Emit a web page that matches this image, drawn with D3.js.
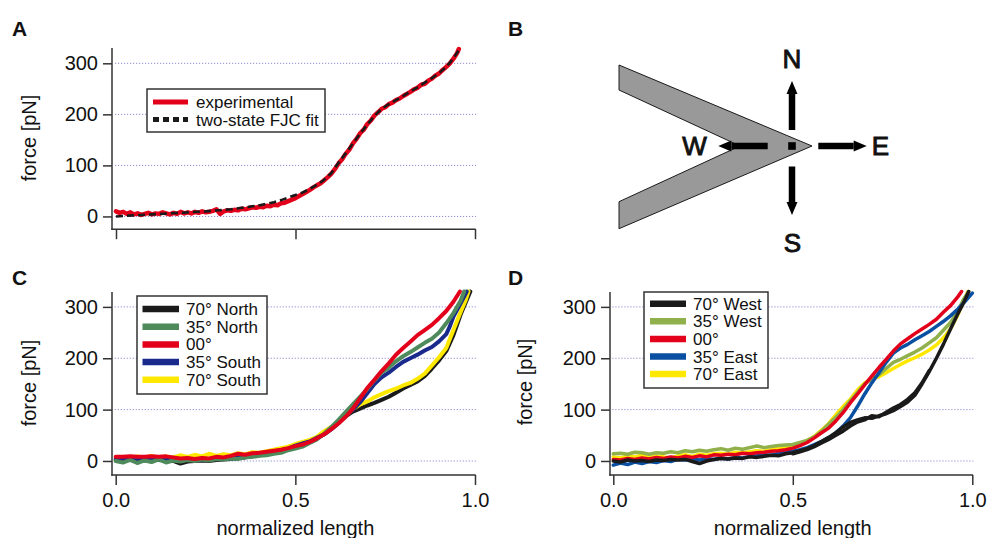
<!DOCTYPE html>
<html><head><meta charset="utf-8">
<script src="https://cdn.jsdelivr.net/npm/d3@7"></script>
<style>
body{margin:0;background:#fff}
svg{display:block}
text{font-family:"Liberation Sans",Arial,Helvetica,sans-serif;fill:#111}
</style>
</head><body>
<svg id="chart" width="987" height="538"></svg>
<script>
// ---------- data ----------
const yTicks = [0, 100, 200, 300];
const xTicks = [0, 0.5, 1];
const xTickLabels = ["0.0", "0.5", "1.0"];
const panelLabels = ["A", "B", "C", "D"];
const compassLabels = ["N", "E", "S", "W"];

const legendA = ["experimental", "two-state FJC fit"];
const legendC = ["70° North", "35° North", "00°", "35° South", "70° South"];
const legendD = ["70° West", "35° West", "00°", "35° East", "70° East"];
const colorsC = ["#1a1a1a", "#4f8a5c", "#e2001a", "#1a2a8c", "#ffe800"];
const colorsD = ["#1a1a1a", "#8fb04a", "#e2001a", "#0a50a2", "#ffe800"];

// Panel A
const experimental = [[0,10],[0.01,7],[0.02,9],[0.03,5],[0.04,8],[0.05,4],[0.06,6],[0.07,3],[0.08,5],[0.09,7],
 [0.10,4],[0.11,6],[0.12,5],[0.13,8],[0.14,6],[0.15,4],[0.16,7],[0.17,5],[0.18,9],[0.19,6],
 [0.20,8],[0.21,6],[0.22,9],[0.23,7],[0.24,10],[0.25,8],[0.26,9],[0.27,11],[0.28,14],[0.29,5],
 [0.30,10],[0.31,12],[0.32,11],[0.33,13],[0.34,12],[0.35,15],[0.36,14],[0.37,16],[0.38,18],[0.39,17],
 [0.40,19],[0.41,18],[0.42,21],[0.43,20],[0.44,23],[0.45,22],[0.46,26],[0.47,27],[0.48,30],[0.49,33],
 [0.50,36],[0.51,40],[0.52,44],[0.53,48],[0.54,52],[0.55,57],[0.56,61],[0.57,65],[0.58,71],[0.59,77],
 [0.60,84],[0.61,93],[0.62,104],[0.63,112],[0.64,123],[0.65,131],[0.66,143],[0.67,152],[0.68,163],[0.69,170],
 [0.70,181],[0.71,188],[0.72,198],[0.73,204],[0.74,211],[0.75,214],[0.76,220],[0.77,223],[0.78,228],[0.79,231],
 [0.80,236],[0.81,240],[0.82,244],[0.83,249],[0.84,252],[0.85,258],[0.86,260],[0.87,266],[0.88,270],[0.89,276],
 [0.90,280],[0.91,287],[0.92,293],[0.93,300],[0.94,309],[0.95,320],[0.955,328]];
const fjcFit = [[0,0],[0.05,2],[0.1,4],[0.15,6],[0.2,8],[0.25,10],[0.3,13],[0.32,14],[0.34,16],[0.36,18],
 [0.38,20],[0.40,22],[0.42,25],[0.44,28],[0.46,32],[0.48,37],[0.50,42],[0.52,47],[0.54,54],[0.56,62],
 [0.58,72],[0.60,85],[0.62,105],[0.64,124],[0.66,143],[0.68,162],[0.70,180],[0.72,197],[0.74,211],[0.76,220],
 [0.78,228],[0.80,236],[0.82,245],[0.84,253],[0.86,262],[0.88,271],[0.90,281],[0.92,293],[0.94,310],[0.955,326]];

// Panel C
const north70 = [[0,2],[0.02,1],[0.04,3],[0.06,2],[0.08,1],[0.10,3],[0.12,2],[0.14,1],[0.16,0],[0.18,-5],
 [0.20,-1],[0.22,0],[0.24,1],[0.26,0],[0.28,2],[0.30,3],[0.32,4],[0.34,6],[0.36,7],[0.38,9],
 [0.40,11],[0.42,14],[0.44,17],[0.46,20],[0.48,24],[0.50,30],[0.52,33],[0.54,38],[0.56,44],[0.58,52],
 [0.60,62],[0.62,74],[0.64,87],[0.66,96],[0.68,102],[0.70,108],[0.72,113],[0.74,119],[0.76,125],[0.78,133],
 [0.80,141],[0.82,148],[0.84,155],[0.86,165],[0.88,180],[0.90,196],[0.92,214],[0.94,245],[0.96,285],[0.975,310],[0.987,330]];
const north35 = [[0,0],[0.02,-3],[0.04,2],[0.06,-4],[0.08,1],[0.10,-2],[0.12,3],[0.14,-3],[0.16,1],[0.18,-1],
 [0.20,2],[0.22,0],[0.24,3],[0.26,1],[0.28,4],[0.30,3],[0.32,5],[0.34,4],[0.36,7],[0.38,8],
 [0.40,10],[0.42,11],[0.44,14],[0.46,16],[0.48,21],[0.50,24],[0.52,28],[0.54,35],[0.56,42],[0.58,53],
 [0.60,66],[0.62,80],[0.64,95],[0.66,110],[0.68,125],[0.70,140],[0.72,157],[0.74,172],[0.76,182],[0.78,194],
 [0.80,204],[0.82,212],[0.84,221],[0.86,230],[0.88,238],[0.90,250],[0.92,268],[0.94,288],[0.96,312],[0.97,330]];
const zeroC = [[0,8],[0.02,8],[0.04,9],[0.06,8],[0.08,8],[0.10,9],[0.12,8],[0.14,9],[0.16,7],[0.18,5],
 [0.20,6],[0.22,4],[0.24,6],[0.26,5],[0.28,8],[0.30,7],[0.32,10],[0.34,14],[0.36,12],[0.38,15],
 [0.40,16],[0.42,18],[0.44,20],[0.46,22],[0.48,25],[0.50,29],[0.52,32],[0.54,37],[0.56,44],[0.58,52],
 [0.60,62],[0.62,73],[0.64,86],[0.66,102],[0.68,122],[0.70,142],[0.72,158],[0.74,175],[0.76,190],[0.78,207],
 [0.80,220],[0.82,232],[0.84,245],[0.86,255],[0.88,265],[0.90,278],[0.92,292],[0.94,310],[0.958,330]];
const south35 = [[0,4],[0.04,5],[0.08,4],[0.12,5],[0.16,3],[0.20,2],[0.24,3],[0.28,5],[0.32,7],[0.36,10],
 [0.40,13],[0.44,18],[0.48,24],[0.50,30],[0.52,34],[0.54,38],[0.56,45],[0.58,52],
 [0.60,62],[0.62,74],[0.64,88],[0.66,100],[0.68,114],[0.70,132],[0.72,150],[0.74,163],[0.76,172],[0.78,183],
 [0.80,193],[0.82,200],[0.84,207],[0.86,215],[0.88,222],[0.90,233],[0.92,247],[0.93,262],[0.94,281],[0.96,307],[0.977,330]];
const south70 = [[0,6],[0.02,8],[0.04,5],[0.06,9],[0.08,7],[0.10,10],[0.12,6],[0.14,9],[0.16,7],[0.18,11],
 [0.20,8],[0.22,12],[0.24,9],[0.26,14],[0.28,10],[0.30,13],[0.32,11],[0.34,15],[0.36,13],[0.38,17],
 [0.40,16],[0.42,19],[0.44,22],[0.46,25],[0.48,28],[0.50,33],[0.52,37],[0.54,41],[0.56,47],[0.58,58],
 [0.60,66],[0.62,76],[0.64,88],[0.66,101],[0.68,110],[0.70,116],[0.72,124],[0.74,130],[0.76,136],[0.78,141],
 [0.80,147],[0.82,152],[0.84,160],[0.86,170],[0.88,186],[0.90,202],[0.92,220],[0.94,255],[0.96,290],[0.975,315],[0.982,330]];

// Panel D
const west70 = [[0,0],[0.02,-2],[0.04,2],[0.06,0],[0.08,1],[0.10,-1],[0.12,2],[0.14,1],[0.16,3],[0.18,2],
 [0.20,3],[0.22,-1],[0.24,-5],[0.26,0],[0.28,3],[0.30,5],[0.32,4],[0.34,6],[0.36,5],[0.38,8],
 [0.40,7],[0.42,9],[0.44,11],[0.46,10],[0.48,14],[0.50,16],[0.52,20],[0.54,24],[0.56,30],[0.58,38],
 [0.60,46],[0.62,55],[0.64,66],[0.66,75],[0.68,80],[0.70,84],[0.72,83],[0.74,88],[0.76,92],[0.78,98],
 [0.80,106],[0.82,115],[0.84,128],[0.86,150],[0.88,174],[0.90,200],[0.92,228],[0.94,258],[0.96,287],[0.975,307],[0.99,330]];
const west70b = [[0.50,14],[0.52,18],[0.54,22],[0.56,28],[0.58,35],[0.60,42],[0.62,50],[0.64,58],[0.66,68],[0.68,76],
 [0.70,80],[0.72,88],[0.74,86],[0.76,95],[0.78,103],[0.80,110],[0.82,120],[0.84,133],[0.86,152],[0.88,176]];
const west35 = [[0,14],[0.02,15],[0.04,13],[0.06,17],[0.08,16],[0.10,13],[0.12,16],[0.14,15],[0.16,18],[0.18,16],
 [0.20,20],[0.22,18],[0.24,21],[0.26,19],[0.28,22],[0.30,24],[0.32,21],[0.34,25],[0.36,23],[0.38,26],
 [0.40,29],[0.42,26],[0.44,28],[0.46,30],[0.48,31],[0.50,32],[0.52,36],[0.54,40],[0.56,47],[0.58,58],
 [0.60,72],[0.62,85],[0.64,100],[0.66,117],[0.68,133],[0.70,150],[0.72,160],[0.74,168],[0.76,180],[0.78,192],
 [0.80,198],[0.82,205],[0.84,212],[0.86,220],[0.88,230],[0.90,240],[0.92,255],[0.94,270],[0.96,292],[0.975,314],[0.99,330]];
const zeroD = [[0,3],[0.02,2],[0.04,5],[0.06,3],[0.08,6],[0.10,4],[0.12,7],[0.14,5],[0.16,8],[0.18,6],
 [0.20,9],[0.22,7],[0.24,10],[0.26,8],[0.28,12],[0.30,11],[0.32,13],[0.34,12],[0.36,15],[0.38,14],
 [0.40,16],[0.42,17],[0.44,19],[0.46,20],[0.48,22],[0.50,25],[0.52,30],[0.54,36],[0.56,45],[0.58,55],
 [0.60,64],[0.62,78],[0.64,94],[0.66,113],[0.68,130],[0.70,148],[0.72,165],[0.74,182],[0.76,198],[0.78,214],
 [0.80,228],[0.82,238],[0.84,248],[0.86,257],[0.88,266],[0.90,276],[0.92,290],[0.94,303],[0.96,320],[0.97,330]];
const east35 = [[0,-8],[0.02,-4],[0.04,-7],[0.06,-2],[0.08,-5],[0.10,-1],[0.12,-3],[0.14,1],[0.16,-1],[0.18,3],
 [0.20,2],[0.22,4],[0.24,2],[0.26,5],[0.28,3],[0.30,6],[0.32,4],[0.34,7],[0.36,6],[0.38,9],
 [0.40,10],[0.42,12],[0.44,11],[0.46,15],[0.48,17],[0.50,19],[0.52,22],[0.54,26],[0.56,32],[0.58,38],
 [0.60,45],[0.62,55],[0.64,68],[0.66,84],[0.68,106],[0.70,130],[0.72,152],[0.74,172],[0.76,192],[0.78,210],
 [0.80,220],[0.82,227],[0.84,236],[0.86,244],[0.88,252],[0.90,262],[0.92,272],[0.94,283],[0.96,296],[0.98,311],[1.0,327]];
const east70 = [[0,8],[0.02,6],[0.04,10],[0.06,8],[0.08,11],[0.10,7],[0.12,9],[0.14,8],[0.16,6],[0.18,10],
 [0.20,12],[0.22,9],[0.24,13],[0.26,11],[0.28,14],[0.30,15],[0.32,13],[0.34,17],[0.36,16],[0.38,18],
 [0.40,20],[0.42,19],[0.44,22],[0.46,25],[0.48,26],[0.50,29],[0.52,34],[0.54,40],[0.56,48],[0.58,60],
 [0.60,73],[0.62,90],[0.64,106],[0.66,120],[0.68,138],[0.70,152],[0.72,160],[0.74,164],[0.76,172],[0.78,180],
 [0.80,188],[0.82,195],[0.84,201],[0.86,208],[0.88,216],[0.90,226],[0.92,240],[0.94,258],[0.96,285],[0.975,310],[0.988,330]];

// ---------- drawing ----------
const svg = d3.select("#chart");
const AXC = "#333";

function panel(cfg){
  const g = svg.append("g");
  const x = d3.scaleLinear().domain([0,1]).range([cfg.x0, cfg.x1]);
  const y = d3.scaleLinear().domain(cfg.yDom).range([cfg.yBot, cfg.yTop]);
  g.selectAll("line.grid").data(yTicks).join("line")
    .attr("x1", x(0)-1).attr("x2", x(1)+1)
    .attr("y1", d=>y(d)).attr("y2", d=>y(d))
    .attr("stroke", "#8c8cd2").attr("stroke-width", 1).attr("stroke-dasharray", "1.2,1.8");
  const ya = g.append("g").attr("transform", `translate(${cfg.axX},0)`)
    .call(d3.axisLeft(y).tickValues(yTicks).tickSize(9).tickPadding(5));
  ya.select(".domain").remove();
  ya.selectAll("line").attr("stroke", AXC).attr("stroke-width", 1.5);
  ya.selectAll("text").attr("font-size", 20).attr("font-family", '"Liberation Sans",Arial,sans-serif').attr("fill","#111");
  g.append("line").attr("x1", cfg.axX).attr("x2", cfg.axX).attr("y1", cfg.yTop).attr("y2", cfg.yBot+0.75)
    .attr("stroke", AXC).attr("stroke-width", 1.5);
  const xa = g.append("g").attr("transform", `translate(0,${cfg.yBot})`)
    .call(d3.axisBottom(x).tickValues(xTicks).tickSize(10).tickPadding(8)
      .tickFormat((d,i)=> cfg.xLabels ? xTickLabels[i] : ""));
  xa.select(".domain").remove();
  xa.selectAll("line").attr("stroke", AXC).attr("stroke-width", 1.5);
  xa.selectAll("text").attr("font-size", 20).attr("font-family", '"Liberation Sans",Arial,sans-serif').attr("fill","#111");
  g.append("line").attr("x1", cfg.axX-0.75).attr("x2", x(1)+0.75).attr("y1", cfg.yBot).attr("y2", cfg.yBot)
    .attr("stroke", AXC).attr("stroke-width", 1.5);
  g.append("text").attr("transform", `translate(${cfg.ylabX},${cfg.ylabY}) rotate(-90)`)
    .attr("text-anchor", "middle").attr("font-size", 20).text("force [pN]");
  if (cfg.xLabels) {
    g.append("text").attr("x", x(0.5)).attr("y", 535).attr("text-anchor", "middle")
      .attr("font-size", 20).text("normalized length");
  }
  return {g, x, y};
}

function drawLines(p, series, colors, width){
  const line = d3.line().x(d=>p.x(d[0])).y(d=>p.y(d[1]));
  series.forEach((s,i)=>{
    p.g.append("path").attr("d", line(s)).attr("fill","none")
      .attr("stroke", colors[i]).attr("stroke-width", width)
      .attr("stroke-linejoin","round").attr("stroke-linecap","round");
  });
}

function legend(box, labels, colors, dashes){
  const g = svg.append("g");
  g.append("rect").attr("x", box.x).attr("y", box.y).attr("width", box.w).attr("height", box.h)
    .attr("fill", "#fff").attr("stroke", "#333").attr("stroke-width", 1.5);
  labels.forEach((lab,i)=>{
    const cy = box.r0 + i*box.dy;
    g.append("line").attr("x1", box.x+box.s0).attr("x2", box.x+box.s1).attr("y1", cy).attr("y2", cy)
      .attr("stroke", colors[i]).attr("stroke-width", box.sw)
      .attr("stroke-dasharray", dashes && dashes[i] ? dashes[i] : null);
    g.append("text").attr("x", box.x+box.tx).attr("y", cy+6).attr("font-size", 17).text(lab);
  });
}

// Panel A
const pA = panel({x0:116, x1:475, axX:112, yDom:[-25,330], yBot:229.2, yTop:48, xLabels:false, ylabX:36, ylabY:138});
drawLines(pA, [experimental], ["#e2001a"], 4.5);
pA.g.append("path").attr("d", d3.line().x(d=>pA.x(d[0])).y(d=>pA.y(d[1]))(fjcFit))
  .attr("fill","none").attr("stroke","#1a1a1a").attr("stroke-width",2.6).attr("stroke-dasharray","7,4");
legend({x:147, y:89, w:178, h:43, r0:102, dy:17.5, s0:6, s1:41, sw:5, tx:49}, legendA, ["#e2001a","#1a1a1a"], [null,"6,4"]);

// Panel C
const pC = panel({x0:115.7, x1:475, axX:112, yDom:[-27.3,329], yBot:475, yTop:292, xLabels:true, ylabX:36, ylabY:383});
drawLines(pC, [north70, south70, south35, north35, zeroC], [colorsC[0], colorsC[4], colorsC[3], colorsC[1], colorsC[2]], 4);
legend({x:137, y:296, w:130, h:98, r0:309, dy:17.7, s0:5.5, s1:42, sw:6.5, tx:49}, legendC, colorsC);

// Panel D
const pD = panel({x0:613.3, x1:972.3, axX:610, yDom:[-27.3,329], yBot:475, yTop:292, xLabels:true, ylabX:532, ylabY:382});
drawLines(pD, [east70, west35, east35, zeroD, west70, west70b], [colorsD[4], colorsD[1], colorsD[3], colorsD[2], colorsD[0], colorsD[0]], 3.5);
legend({x:644, y:292, w:124, h:96, r0:303.7, dy:17.6, s0:6, s1:42, sw:6.5, tx:49}, legendD, colorsD);

// Panel B schematic
const gB = svg.append("g");
const cx = 792, cy = 146;
gB.append("polygon")
  .attr("points", [[619,65],[cx+20,cy],[619,228.7],[619,201.7],[740,cy],[619,90]].map(p=>p.join(",")).join(" "))
  .attr("fill", "#999").attr("stroke", "#1a1a1a").attr("stroke-width", 1);
gB.append("rect").attr("x", cx-3.8).attr("y", cy-3.8).attr("width", 7.6).attr("height", 7.6).attr("fill", "#000");
function arrow(dx, dy, start, len){
  const hw = 5.5, hl = 13;
  const ex = cx + dx*len, ey = cy + dy*len;
  const sx = cx + dx*start, sy = cy + dy*start;
  gB.append("line").attr("x1", sx).attr("y1", sy).attr("x2", ex - dx*hl).attr("y2", ey - dy*hl)
    .attr("stroke", "#000").attr("stroke-width", 6.5);
  const bx = ex - dx*hl, by = ey - dy*hl;
  gB.append("polygon").attr("points", [[ex,ey],[bx - dy*hw, by + dx*hw],[bx + dy*hw, by - dx*hw]].map(p=>p.join(",")).join(" "))
    .attr("fill", "#000");
}
arrow(0,-1,16,65);
arrow(0,1,20.5,69);
arrow(1,0,26.3,74.7);
arrow(-1,0,24.3,73.7);
const compassPos = [[792,68.3,"middle"],[871.7,155,"start"],[792.5,251.7,"middle"],[694.5,155,"middle"]];
compassLabels.forEach((l,i)=>{
  gB.append("text").attr("x", compassPos[i][0]).attr("y", compassPos[i][1]).attr("text-anchor", compassPos[i][2])
    .attr("font-size", 26).attr("stroke", "#111").attr("stroke-width", 0.9).text(l);
});

// panel letters
const letterPos = [[12,36],[508,36],[12,285],[508,285]];
panelLabels.forEach((l,i)=>{
  svg.append("text").attr("x", letterPos[i][0]).attr("y", letterPos[i][1])
    .attr("font-size", 21).attr("font-weight", "bold").text(l);
});
</script>
</body></html>
